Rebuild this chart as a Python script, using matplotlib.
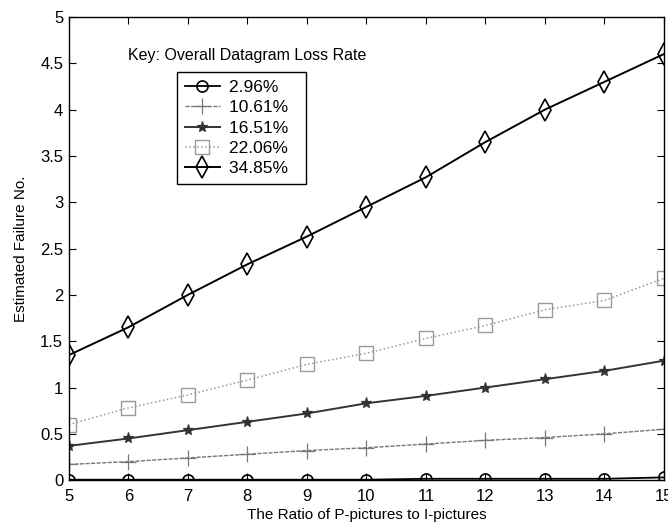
import matplotlib
matplotlib.use("Agg")
import matplotlib.pyplot as plt

plt.rcParams['font.family'] = ['Liberation Sans', 'DejaVu Sans']

ratio = [5, 6, 7, 8, 9, 10, 11, 12, 13, 14, 15]
loss_labels = ["2.96%", "10.61%", "16.51%", "22.06%", "34.85%"]

fail_296 = [0.005, 0.005, 0.005, 0.005, 0.005, 0.005, 0.015, 0.015, 0.015, 0.015, 0.03]
fail_1061 = [0.17, 0.20, 0.24, 0.28, 0.32, 0.35, 0.39, 0.43, 0.46, 0.50, 0.55]
fail_1651 = [0.37, 0.45, 0.54, 0.63, 0.72, 0.83, 0.91, 1.00, 1.09, 1.18, 1.29]
fail_2206 = [0.60, 0.78, 0.92, 1.08, 1.25, 1.37, 1.53, 1.67, 1.84, 1.94, 2.18]
fail_3485 = [1.35, 1.65, 2.00, 2.33, 2.63, 2.95, 3.27, 3.65, 4.00, 4.30, 4.60]

fig = plt.figure(figsize=(6.68, 5.3), dpi=100)
ax = fig.add_axes([0.103, 0.094, 0.891, 0.874])

ax.plot(ratio, fail_296, '-', color='black', marker='o', markersize=8,
        markerfacecolor='none', markeredgewidth=1.2, lw=1.3, label=loss_labels[0] + "  ")
ax.plot(ratio, fail_1061, '--', color='#777777', marker='+', markersize=11,
        markeredgewidth=0.9, lw=1.0, dashes=(3, 1), label=loss_labels[1] + "  ")
ax.plot(ratio, fail_1651, '-', color='#333333', marker='*', markersize=8,
        markeredgewidth=0.9, lw=1.4, label=loss_labels[2] + "  ")
ax.plot(ratio, fail_2206, ':', color='#999999', marker='s', markersize=10,
        markerfacecolor='none', markeredgewidth=1.0, lw=1.1, label=loss_labels[3] + "  ")
ax.plot(ratio, fail_3485, '-', color='black', marker='d', markersize=11,
        markerfacecolor='none', markeredgewidth=1.2, lw=1.4, label=loss_labels[4] + "  ")

ax.set_xlim(5, 15)
ax.set_ylim(0, 5)
ax.set_xticks(ratio)
ax.set_yticks([0, 0.5, 1, 1.5, 2, 2.5, 3, 3.5, 4, 4.5, 5])
ax.set_yticklabels(["0", "0.5", "1", "1.5", "2", "2.5", "3", "3.5", "4", "4.5", "5"])
ax.tick_params(direction='in', top=True, right=True, labelsize=12, length=5)
ax.tick_params(axis='x', pad=6)
ax.tick_params(axis='y', pad=4)
for s in ax.spines.values():
    s.set_linewidth(1.0)

ax.set_xlabel("The Ratio of P-pictures to I-pictures", fontsize=11, labelpad=3)
ax.set_ylabel("Estimated Failure No.", fontsize=11, labelpad=9)

ax.text(5.99, 4.58, "Key: Overall Datagram Loss Rate", fontsize=11.5, va='center')

leg = ax.legend(loc='upper left', bbox_to_anchor=(177 / 668, 1 - 72 / 530),
                bbox_transform=fig.transFigure, fontsize=12.5, frameon=True,
                fancybox=False, edgecolor='black', framealpha=1,
                handlelength=2.0, handletextpad=0.55, labelspacing=0.3,
                borderpad=0.45, borderaxespad=0)
leg.get_frame().set_linewidth(1.0)

fig.savefig("out.png", dpi=100)
